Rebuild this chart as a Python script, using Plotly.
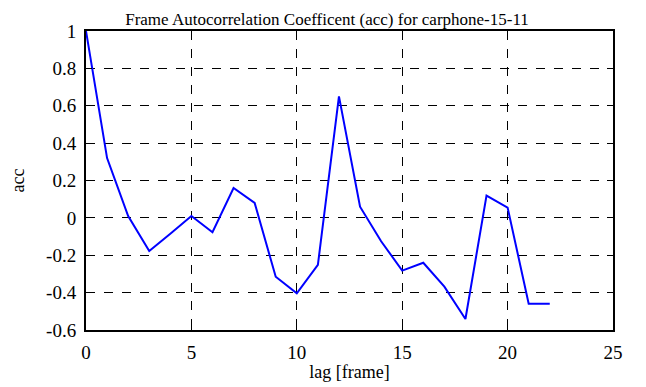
import plotly.graph_objects as go

lag = list(range(23))
acc = [1.0, 0.32, 0.01, -0.177, -0.085, 0.01, -0.077, 0.16, 0.08, -0.315, -0.404,
       -0.252, 0.65, 0.06, -0.125, -0.282, -0.24, -0.368, -0.541, 0.119, 0.055,
       -0.459, -0.459]
x_ticks = [0, 5, 10, 15, 20, 25]
y_ticks = [-0.6, -0.4, -0.2, 0, 0.2, 0.4, 0.6, 0.8, 1]

SERIF = "Liberation Serif, Times New Roman, serif"

fig = go.Figure()
fig.add_trace(go.Scatter(x=lag, y=acc, mode="lines",
                         line=dict(color="#0000ff", width=2), showlegend=False))

tick_font = dict(family=SERIF, size=19, color="black")
title_font = dict(family=SERIF, size=18, color="black")
axis_common = dict(showline=True, linecolor="black", linewidth=2, mirror="ticks",
                   ticks="inside", ticklen=6, tickcolor="black", tickwidth=1,
                   showgrid=True, gridcolor="black", griddash="dash", gridwidth=1,
                   zeroline=False, tickfont=tick_font, automargin=False)
fig.update_xaxes(range=[0, 25], tickvals=x_ticks, ticktext=[str(v) for v in x_ticks],
                 ticklabelstandoff=4,
                 title=dict(text="lag [frame]", font=title_font, standoff=4), **axis_common)
fig.update_yaxes(range=[-0.6, 1], tickvals=y_ticks,
                 ticktext=["-0.6", "-0.4", "-0.2", "0", "0.2", "0.4", "0.6", "0.8", "1"],
                 ticklabelstandoff=4,
                 title=dict(text="acc", font=title_font, standoff=24), **axis_common)
fig.update_layout(
    width=638, height=379,
    margin=dict(l=78, r=33, t=23, b=57),
    paper_bgcolor="white", plot_bgcolor="white",
    title=dict(text="Frame Autocorrelation Coefficent (acc) for carphone-15-11",
               font=dict(family=SERIF, size=17, color="black"),
               x=0.5, xanchor="center", y=0.992, yanchor="top", pad=dict(t=2)),
)
fig.write_html("out.html")
